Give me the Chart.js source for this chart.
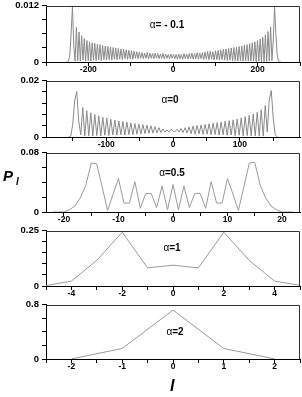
<!DOCTYPE html>
<html>
<head>
<meta charset="utf-8">
<script src="https://cdn.jsdelivr.net/npm/chart.js@4.4.1/dist/chart.umd.min.js"></script>
<style>
  body { margin:0; background:#fff; width:302px; height:397px; overflow:hidden; position:relative; font-family:Arial, "Liberation Sans", sans-serif; }
  canvas { position:absolute; left:0; }
  .lab { position:absolute; font-style:italic; font-weight:bold; color:#000; line-height:1; white-space:nowrap; }
</style>
</head>
<body>
<canvas id="c1" width="302" height="79" style="top:-3px"></canvas>
<canvas id="c2" width="302" height="79" style="top:72px"></canvas>
<canvas id="c3" width="302" height="82" style="top:144px"></canvas>
<canvas id="c4" width="302" height="78" style="top:222px"></canvas>
<canvas id="c5" width="302" height="77" style="top:296px"></canvas>
<div class="lab" style="left:3px;top:168px;font-size:15px">P</div>
<div class="lab" style="left:16px;top:177px;font-size:10px">l</div>
<div class="lab" style="left:170px;top:378px;font-size:16px">l</div>
<script>
// alpha = -0.1 : sampled on a regular l grid (start, step)
const p1Start = -253, p1Step = 3.1;
const p1Vals = [
  0, 0, 0.0002, 0.0015, 0.0062, 0.0118, 0.0035, 0.0002, 0.0074, 0.0003,
  0.0064, 0.0002, 0.0056, 0.0004, 0.005, 0.0002, 0.0046, 0.0003, 0.0043, 0.0002,
  0.0041, 0.0004, 0.004, 0.0003, 0.0038, 0.0004, 0.0037, 0.0003, 0.0035, 0.0005,
  0.0034, 0.0004, 0.0033, 0.0005, 0.0032, 0.0004, 0.0031, 0.0006, 0.003, 0.0005,
  0.0029, 0.0006, 0.0028, 0.0005, 0.0027, 0.0007, 0.0026, 0.0006, 0.0025, 0.0007,
  0.0024, 0.0006, 0.0023, 0.0008, 0.0022, 0.0007, 0.0021, 0.0008, 0.002, 0.0007,
  0.0019, 0.0008, 0.002, 0.0007, 0.0019, 0.0008, 0.0018, 0.0007, 0.0019, 0.0008,
  0.0018, 0.0007, 0.0017, 0.0008, 0.0018, 0.0007, 0.0017, 0.0008, 0.0016, 0.0007,
  0.0017, 0.0008, 0.0016,
  0.0007, 0.0016, 0.0006, 0.0017, 0.0007, 0.0016, 0.0006, 0.0018, 0.0007, 0.0017,
  0.0006, 0.0018, 0.0007, 0.0019, 0.0006, 0.0018, 0.0007, 0.002, 0.0006, 0.0019,
  0.0007, 0.002, 0.0005, 0.0021, 0.0006, 0.0022, 0.0005, 0.0023, 0.0006, 0.0022,
  0.0004, 0.0024, 0.0005, 0.0025, 0.0004, 0.0026, 0.0005, 0.0027, 0.0004, 0.0028,
  0.0003, 0.0029, 0.0004, 0.003, 0.0003, 0.0031, 0.0003, 0.0032, 0.0002, 0.0033,
  0.0003, 0.0034, 0.0002, 0.0036, 0.0003, 0.0037, 0.0002, 0.0039, 0.0002, 0.0041,
  0.0002, 0.0043, 0.0001, 0.0046, 0.0002, 0.0049, 0.0001, 0.0053, 0.0001, 0.0058,
  0.0001, 0.0065, 0.0002, 0.0075, 0.0003, 0.0045, 0.0118, 0.006, 0.0015, 0.0002,
  0, 0
];

// alpha = 0
const p2Start = -156, p2Step = 3;
const p2Vals = [
  0, 0.0003, 0.0045, 0.013, 0.0162, 0.0055, 0.0008, 0.0105, 0.0003, 0.0093,
  0.0004, 0.0086, 0.0003, 0.008, 0.0005, 0.0075, 0.0004, 0.007, 0.0006, 0.0067,
  0.0005, 0.0063, 0.0007, 0.006, 0.0006, 0.0057, 0.0008, 0.0055, 0.0007, 0.0053,
  0.0009, 0.005, 0.0008, 0.0048, 0.001, 0.0046, 0.0011, 0.0044, 0.0012, 0.0042,
  0.0013, 0.004, 0.0014, 0.0037, 0.0015, 0.0033, 0.0016, 0.0029, 0.0017, 0.0025,
  0.0018, 0.0027, 0.0021,
  0.0019, 0.0027, 0.0018, 0.003, 0.0016, 0.0033, 0.0014, 0.0036, 0.0012, 0.0039,
  0.001, 0.0041, 0.0011, 0.0043, 0.0009, 0.0045, 0.001, 0.0047, 0.0008, 0.0049,
  0.0009, 0.0051, 0.0007, 0.0053, 0.0008, 0.0056, 0.0006, 0.0058, 0.0007, 0.0061,
  0.0005, 0.0064, 0.0006, 0.0068, 0.0004, 0.0072, 0.0005, 0.0077, 0.0004, 0.0082,
  0.0004, 0.0088, 0.0003, 0.0097, 0.0003, 0.0112, 0.0018, 0.0132, 0.0165, 0.0065,
  0.0008, 0
];

// alpha = 0.5
const p3L = [-22,-21,-20,-19,-18,-17,-16,-15,-14,-13,-12,-11,-10,-9,-8,-7,-6,-5,-4,-3,-2,-1,0,
             1,2,3,4,5,6,7,8,9,10,11,12,13,14,15,16,17,18,19,20,21,22];
const p3Vals = [0,0,0,0.003,0.008,0.019,0.036,0.066,0.065,0.034,0.002,0.024,0.045,0.012,0.012,0.041,0.005,0.025,0.025,0.006,0.035,0.003,0.037,
                0.003,0.035,0.006,0.025,0.025,0.005,0.041,0.012,0.012,0.045,0.024,0.002,0.034,0.066,0.067,0.036,0.019,0.008,0.003,0,0,0];

// alpha = 1
const p4L = [-5,-4,-3,-2,-1,0,1,2,3,4,5];
const p4Vals = [0.002,0.022,0.116,0.243,0.082,0.094,0.082,0.243,0.116,0.022,0.003];

// alpha = 2
const p5L = [-2,-1,0,1,2];
const p5Vals = [0.001,0.155,0.72,0.155,0.001];

// axis ticks and labels
const xTicks1 = [-300,-200,-100,0,100,200,300], xLabels1 = [-200,0,200];
const xTicks2 = [-150,-100,-50,0,50,100,150], xLabels2 = [-100,0,100];
const xTicks3 = [-20,-15,-10,-5,0,5,10,15,20], xLabels3 = [-20,-10,0,10,20];
const xTicks4 = [-5,-4,-3,-2,-1,0,1,2,3,4,5], xLabels4 = [-4,-2,0,2,4];
const xTicks5 = [-2.5,-2,-1.5,-1,-0.5,0,0.5,1,1.5,2,2.5], xLabels5 = [-2,-1,0,1,2];
const yTicks1 = [0,0.003,0.006,0.009,0.012];
const yTicks2 = [0,0.004,0.008,0.012,0.016,0.02];
const yTicks3 = [0,0.02,0.04,0.06,0.08];
const yTicks4 = [0,0.05,0.1,0.15,0.2,0.25];
const yTicks5 = [0,0.2,0.4,0.6,0.8];

const frame = {
  id: 'frame',
  afterDraw(chart, args, o) {
    const { ctx, chartArea: a } = chart;
    ctx.save();
    ctx.strokeStyle = '#333';
    ctx.lineWidth = 1;
    ctx.beginPath();
    ctx.moveTo(a.left, Math.round(a.top) + 0.5);
    ctx.lineTo(Math.round(a.right) - 0.5, Math.round(a.top) + 0.5);
    ctx.lineTo(Math.round(a.right) - 0.5, a.bottom);
    ctx.stroke();
    // alpha label
    const cx = (a.left + a.right) / 2 + o.dx, y = a.top + o.dy;
    ctx.fillStyle = '#000';
    ctx.textBaseline = 'middle';
    ctx.font = '10px Arial, "Liberation Sans", sans-serif';
    const w1 = ctx.measureText('α').width;
    ctx.font = 'bold 10px Arial, "Liberation Sans", sans-serif';
    const w2 = ctx.measureText(o.text).width;
    let x = cx - (w1 + w2) / 2;
    ctx.font = '10px Arial, "Liberation Sans", sans-serif';
    ctx.fillText('α', x, y);
    ctx.font = 'bold 10px Arial, "Liberation Sans", sans-serif';
    ctx.fillText(o.text, x + w1, y);
    ctx.restore();
  }
};

const near = (a, b) => Math.abs(a - b) < 1e-9;

function makeChart(id, xs, ys, xMin, xMax, xTicks, xLabels, yMax, yTicks, yLabel, alpha, dx, dy, color) {
  const pts = ys.map((v, i) => ({ x: xs(i), y: v }));
  new Chart(document.getElementById(id), {
    type: 'line',
    data: { datasets: [{ data: pts, borderColor: color, borderWidth: 1, pointRadius: 0, tension: 0, fill: false }] },
    options: {
      responsive: false, animation: false, events: [],
      layout: { padding: { top: 8, right: 2, left: 0, bottom: 0 } },
      plugins: { legend: { display: false }, tooltip: { enabled: false }, frame: { text: alpha, dx: dx, dy: dy } },
      scales: {
        x: {
          type: 'linear', min: xMin, max: xMax,
          afterBuildTicks: ax => { ax.ticks = xTicks.map(v => ({ value: v })); },
          afterFit: ax => { ax.height = 14; },
          ticks: { autoSkip: false, maxRotation: 0, padding: -1, color: '#000',
                   font: { family: 'Arial, "Liberation Sans", sans-serif', size: 8.5, weight: 'bold' },
                   callback: v => xLabels.some(l => near(l, v)) ? String(v) : '' },
          grid: { drawOnChartArea: false, tickLength: 4, color: '#000' },
          border: { color: '#000', width: 1 }
        },
        y: {
          min: 0, max: yMax,
          afterBuildTicks: ax => { ax.ticks = yTicks.map(v => ({ value: v })); },
          afterFit: ax => { ax.width = 46; },
          ticks: { autoSkip: false, padding: 3, color: '#000',
                   font: { family: 'Arial, "Liberation Sans", sans-serif', size: 9.5, weight: 'bold' },
                   callback: v => near(v, 0) ? '0' : near(v, yMax) ? yLabel : '' },
          grid: { drawOnChartArea: false, tickLength: 4, color: '#000' },
          border: { color: '#000', width: 1 }
        }
      }
    },
    plugins: [frame]
  });
}

makeChart('c1', i => p1Start + i * p1Step, p1Vals, -300, 300, xTicks1, xLabels1, 0.012, yTicks1, '0.012', '= - 0.1', -6, 20, '#8a8a8a');
makeChart('c2', i => p2Start + i * p2Step, p2Vals, -190, 190, xTicks2, xLabels2, 0.02, yTicks2, '0.02', '=0', -3, 20, '#8a8a8a');
makeChart('c3', i => p3L[i], p3Vals, -23.3, 23.3, xTicks3, xLabels3, 0.08, yTicks3, '0.08', '=0.5', -1, 21, '#9a9a9a');
makeChart('c4', i => p4L[i], p4Vals, -5, 5, xTicks4, xLabels4, 0.25, yTicks4, '0.25', '=1', -1, 18, '#9a9a9a');
makeChart('c5', i => p5L[i], p5Vals, -2.5, 2.5, xTicks5, xLabels5, 0.8, yTicks5, '0.8', '=2', 2, 28, '#9a9a9a');
</script>
</body>
</html>
